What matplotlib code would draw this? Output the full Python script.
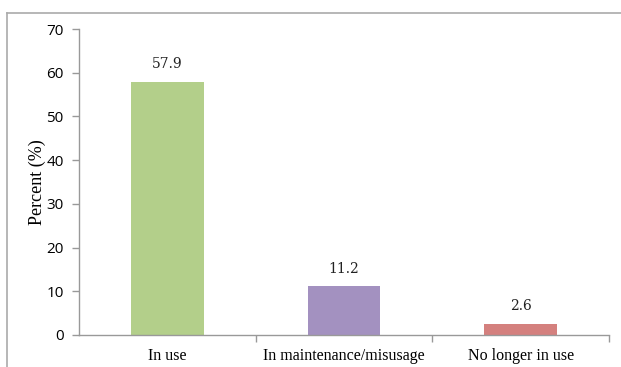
import numpy as np
import matplotlib
matplotlib.use('Agg')
import matplotlib.pyplot as plt
from matplotlib.lines import Line2D

categories = ['In use', 'In maintenance/misusage', 'No longer in use']
values = [57.9, 11.2, 2.6]
colors = ['#b3cf8a', '#a391c0', '#d4807e']
yticks = [0, 10, 20, 30, 40, 50, 60, 70]

fig = plt.figure(figsize=(6.21, 3.67), dpi=100)
ax = fig.add_axes([79/621, 32/367, 530/621, 306/367])

x = np.arange(len(categories))
bars = ax.bar(x, values, width=0.41, color=colors, edgecolor='none')

for xi, v in zip(x, values):
    ax.text(xi, v + 2.4, '%.1f' % v, ha='center', va='bottom',
            fontsize=10, family='DejaVu Serif', color='#222222')

ax.set_xlim(-0.5, 2.5)
ax.set_ylim(0, 70)
ax.set_yticks(yticks)
ax.set_yticklabels([str(t) for t in yticks], fontsize=11, family='Open Sans')
ax.set_xticks(x)
ax.set_xticklabels(categories, fontsize=11.5, family='Liberation Serif')
ax.tick_params(axis='x', length=0, pad=9)
ax.tick_params(axis='y', length=5, color='#999999', width=1, pad=6)

# category boundary ticks
ax.set_xticks([0.5, 1.5, 2.5], minor=True)
ax.tick_params(axis='x', which='minor', length=5, color='#999999', width=1)

for s in ['top', 'right']:
    ax.spines[s].set_visible(False)
for s in ['left', 'bottom']:
    ax.spines[s].set_color('#999999')
    ax.spines[s].set_linewidth(1)

ax.set_ylabel('Percent (%)', fontsize=13, family='Liberation Serif', labelpad=0)

# outer frame (top and left only visible)
fig.add_artist(Line2D([7/621, 1], [1 - 13/367, 1 - 13/367], color='#aaaaaa', lw=1.2,
                      transform=fig.transFigure))
fig.add_artist(Line2D([7/621, 7/621], [0, 1 - 13/367], color='#aaaaaa', lw=1.2,
                      transform=fig.transFigure))

fig.savefig('out.png', dpi=100)
